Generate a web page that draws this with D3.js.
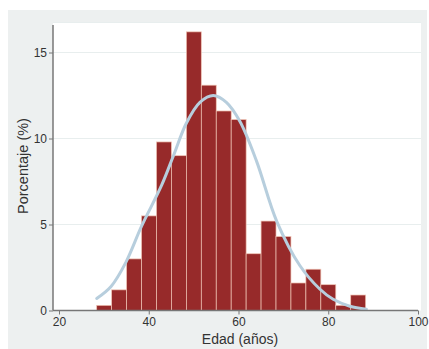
<!DOCTYPE html>
<html>
<head>
<meta charset="utf-8">
<script src="https://cdn.jsdelivr.net/npm/d3@7"></script>
<style>
  body { margin: 0; background: #fff; }
  text { font-family: "Liberation Sans", Arial, sans-serif; fill: #333; }
</style>
</head>
<body>
<script>
// bin edges (edad, años) and percentage per bin
const binEdges = [28.40, 31.73, 35.06, 38.39, 41.72, 45.05, 48.38, 51.71, 55.04, 58.37,
                  61.70, 65.03, 68.36, 71.69, 75.02, 78.35, 81.68, 85.01, 88.34];
const percents = [0.3, 1.2, 3.0, 5.5, 9.8, 9.0, 16.2, 13.1, 11.6, 11.1,
                  3.3, 5.2, 4.3, 1.6, 2.4, 1.5, 0.3, 0.9];

// normal curve, points
const curveX = [28.4, 31.6, 34.9, 38.4, 42.9, 45.5, 48.4, 51.4, 54.4, 57.3,
                60.3, 64.0, 68.5, 73.7, 78.1, 81.1, 84.8, 88.5];
const curveY = [0.7, 1.4, 2.8, 4.9, 7.3, 9.0, 10.9, 12.1, 12.5, 12.1,
                11.0, 8.7, 5.2, 2.6, 1.25, 0.65, 0.25, 0.08];

const xTicks = [20, 40, 60, 80, 100];
const yTicks = [0, 5, 10, 15];
const yAxisTop = 16.6;

const width = 429, height = 349;

const svg = d3.select("body").append("svg")
  .attr("width", width)
  .attr("height", height);

// graph region (light grey) and plot region (white)
svg.append("rect")
  .attr("x", 8).attr("y", 10)
  .attr("width", 419).attr("height", 339)
  .attr("fill", "#edf0f0");

const x = d3.scaleLinear().domain([20, 100]).range([59, 418]);
const y = d3.scaleLinear().domain([0, 15]).range([310.5, 52.5]);

const plotLeft = 53, plotRight = 421, plotTop = 22;

svg.append("rect")
  .attr("x", plotLeft).attr("y", plotTop)
  .attr("width", plotRight - plotLeft).attr("height", y(0) - plotTop)
  .attr("fill", "#ffffff");

// grid lines
svg.append("g")
  .selectAll("line")
  .data(yTicks.filter(d => d > 0))
  .enter().append("line")
    .attr("x1", plotLeft).attr("x2", plotRight)
    .attr("y1", d => y(d)).attr("y2", d => y(d))
    .attr("stroke", "#e8eeee")
    .attr("stroke-width", 1.2);

svg.append("line")
  .attr("x1", plotLeft).attr("x2", plotRight)
  .attr("y1", plotTop + 0.5).attr("y2", plotTop + 0.5)
  .attr("stroke", "#e8eeee");

// bars
const bins = percents.map((p, i) => ({ x0: binEdges[i], x1: binEdges[i + 1], p: p }));

svg.append("g")
  .selectAll("rect")
  .data(bins)
  .enter().append("rect")
    .attr("x", d => x(d.x0))
    .attr("y", d => y(d.p))
    .attr("width", d => x(d.x1) - x(d.x0))
    .attr("height", d => y(0) - y(d.p))
    .attr("fill", "#972a2a")
    .attr("stroke", "#f0c4b4")
    .attr("stroke-width", 0.7);

// density curve
const line = d3.line()
  .x(d => x(d[0]))
  .y(d => y(d[1]))
  .curve(d3.curveCatmullRom);

svg.append("path")
  .datum(curveX.map((v, i) => [v, curveY[i]]))
  .attr("d", line)
  .attr("fill", "none")
  .attr("stroke", "#b7cedd")
  .attr("stroke-width", 3)
  .attr("stroke-linecap", "round");

// axes
const yAxis = svg.append("g")
  .attr("transform", `translate(${plotLeft},0)`)
  .call(d3.axisLeft(y).tickValues(yTicks).tickSize(4).tickPadding(2));
yAxis.select(".domain").remove();
yAxis.selectAll(".tick line").attr("stroke", "#777");
yAxis.selectAll(".tick text").attr("font-size", 12).attr("fill", "#333");

svg.append("line")
  .attr("x1", plotLeft).attr("x2", plotLeft)
  .attr("y1", y(0)).attr("y2", y(yAxisTop))
  .attr("stroke", "#777")
  .attr("stroke-width", 1.5);

const xAxis = svg.append("g")
  .attr("transform", `translate(0,${y(0)})`)
  .call(d3.axisBottom(x).tickValues(xTicks).tickSize(4).tickPadding(3));
xAxis.select(".domain").remove();
xAxis.selectAll(".tick line").attr("stroke", "#777");
xAxis.selectAll(".tick text").attr("font-size", 12).attr("fill", "#333");

svg.append("line")
  .attr("x1", plotLeft).attr("x2", x(100))
  .attr("y1", y(0)).attr("y2", y(0))
  .attr("stroke", "#777")
  .attr("stroke-width", 1.5);

// axis titles
svg.append("text")
  .attr("x", 240).attr("y", 344)
  .attr("text-anchor", "middle")
  .attr("font-size", 14)
  .text("Edad (años)");

svg.append("text")
  .attr("transform", "translate(28,166) rotate(-90)")
  .attr("text-anchor", "middle")
  .attr("font-size", 14.5)
  .text("Porcentaje (%)");
</script>
</body>
</html>
